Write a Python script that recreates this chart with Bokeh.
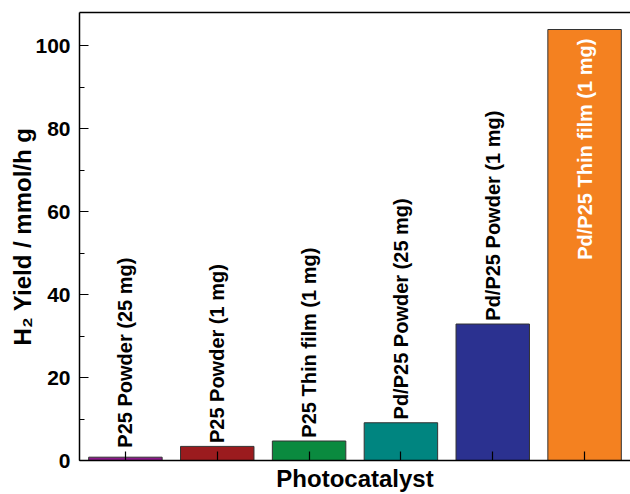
import math
from bokeh.plotting import figure
from bokeh.models import (ColumnDataSource, FactorRange, Range1d, SingleIntervalTicker,
                          LinearAxis, FixedTicker)
from bokeh.embed import file_html
from bokeh.resources import INLINE
from bokeh.core.properties import value

categories = ["P25 Powder (25 mg)", "P25 Powder (1 mg)", "P25 Thin film (1 mg)",
              "Pd/P25 Powder (25 mg)", "Pd/P25 Powder (1 mg)", "Pd/P25 Thin film (1 mg)"]
yields = [0.8, 3.4, 4.7, 9.1, 32.9, 103.9]
colors = ["#8B1A89", "#9B1B1E", "#0A8A3F", "#008580", "#2B3190", "#F48120"]

FONT = "Liberation Sans"

# label positions: above bar for small ones, inside for the tallest
label_y = []
label_align = []
label_color = []
ymax = max(yields)
for v in yields:
    if v == ymax:
        label_y.append(v - 2.2)
        label_align.append("right")
        label_color.append("white")
    else:
        label_y.append(max(v, 2.3) + 0.8)
        label_align.append("left")
        label_color.append("black")

src = ColumnDataSource(dict(cat=categories, y=yields, color=colors,
                            ly=label_y, la=label_align, lc=label_color))

p = figure(x_range=FactorRange(*categories), y_range=Range1d(0, 108),
           width=630, height=494, output_backend="svg", toolbar_location=None,
           min_border_left=79, min_border_right=0, min_border_top=12, min_border_bottom=0)

p.vbar(x="cat", top="y", width=0.8, source=src, fill_color="color",
       line_color="#333333", line_width=1)

p.text(x="cat", y="ly", text="cat", source=src, angle=math.pi / 2,
       text_align="la", text_baseline="middle", text_color="lc",
       text_font=value(FONT), text_font_style="bold", text_font_size="20px")

p.grid.visible = False
p.outline_line_color = None
p.background_fill_color = "white"
p.border_fill_color = "white"

# y axis
ya = p.yaxis[0]
ya.ticker = SingleIntervalTicker(interval=20, num_minor_ticks=2)
ya.axis_line_width = 1.5
ya.axis_line_color = "black"
ya.major_tick_in = 9
ya.major_tick_out = 0
ya.minor_tick_in = 5
ya.minor_tick_out = 0
ya.major_tick_line_width = 1.2
ya.minor_tick_line_width = 1.2
ya.major_label_text_font = FONT
ya.major_label_text_font_style = "bold"
ya.major_label_text_font_size = "21px"
ya.major_label_text_color = "black"
ya.major_label_standoff = 9
ya.axis_label = "H\u2082 Yield / mmol/h g"
ya.axis_label_text_font = FONT
ya.axis_label_text_font_style = "bold"
ya.axis_label_text_font_size = "24px"
ya.axis_label_text_color = "black"
ya.axis_label_standoff = -4

# x axis
xa = p.xaxis[0]
xa.axis_line_width = 1.5
xa.axis_line_color = "black"
xa.major_tick_in = 9
xa.major_tick_out = 0
xa.major_tick_line_width = 1.2
xa.major_label_text_font_size = "1px"
xa.major_label_text_color = None
xa.major_label_standoff = 0
xa.axis_label = "Photocatalyst"
xa.axis_label_text_font = FONT
xa.axis_label_text_font_style = "bold"
xa.axis_label_text_font_size = "24px"
xa.axis_label_text_color = "black"
xa.axis_label_standoff = 4

# top border line
top = LinearAxis(ticker=FixedTicker(ticks=[]), axis_line_width=1.5, axis_line_color="black",
                 major_tick_line_color=None, minor_tick_line_color=None,
                 major_label_text_font_size="1px", major_label_text_color=None,
                 major_label_standoff=0)
p.add_layout(top, "above")

open("out.html", "w").write(file_html(p, INLINE))
